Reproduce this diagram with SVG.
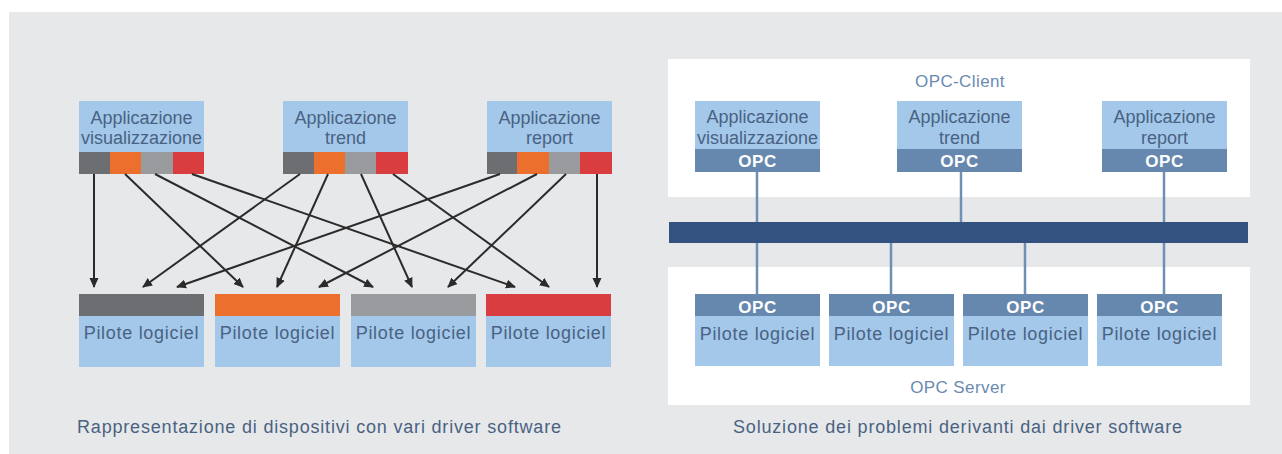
<svg xmlns="http://www.w3.org/2000/svg" width="1282" height="454" viewBox="0 0 1282 454">
<defs>
<marker id="ah" markerWidth="10" markerHeight="10" refX="9" refY="5" orient="auto" markerUnits="userSpaceOnUse">
<path d="M0,0.5 L10,5 L0,9.5 Z" fill="#2b2b2b"/>
</marker>
<style>
text{font-family:"Liberation Sans",Arial,sans-serif}
.lb{fill:#a3c8ea}
.t{font-size:18px;fill:#4a6282;text-anchor:middle}
.pt{letter-spacing:0.7px}
.opc{fill:#6688ae}
.ot{font-size:17px;fill:#ffffff;text-anchor:middle;font-weight:bold;letter-spacing:0.5px}
.dk{fill:#6d6e71}
.or{fill:#ec6f2d}
.gr{fill:#9a9b9e}
.rd{fill:#d93d3f}
.ar{stroke:#2b2b2b;stroke-width:2;fill:none;marker-end:url(#ah)}
.cn{stroke:#6f8fb7;stroke-width:2.5;fill:none}
.cap{font-size:18px;fill:#4a6282}
.pl{font-size:17px;fill:#6a8ab0;text-anchor:middle;letter-spacing:0.4px}
</style>
</defs>
<rect x="9" y="12" width="1273" height="442" fill="#e7e8ea"/>

<!-- Left side -->
<g id="left-app-vis">
<rect class="lb" x="79" y="101" width="125" height="51"/>
<text class="t" x="141.5" y="124">Applicazione</text>
<text class="t" x="141.5" y="144">visualizzazione</text>
<rect class="dk" x="79" y="152" width="31" height="22"/>
<rect class="or" x="110" y="152" width="31" height="22"/>
<rect class="gr" x="141" y="152" width="32" height="22"/>
<rect class="rd" x="173" y="152" width="31" height="22"/>
</g>
<g id="left-app-trend">
<rect class="lb" x="283" y="101" width="125" height="51"/>
<text class="t" x="345.5" y="124">Applicazione</text>
<text class="t" x="345.5" y="144">trend</text>
<rect class="dk" x="283" y="152" width="31" height="22"/>
<rect class="or" x="314" y="152" width="31" height="22"/>
<rect class="gr" x="345" y="152" width="31" height="22"/>
<rect class="rd" x="376" y="152" width="32" height="22"/>
</g>
<g id="left-app-report">
<rect class="lb" x="487" y="101" width="125" height="51"/>
<text class="t" x="549.5" y="124">Applicazione</text>
<text class="t" x="549.5" y="144">report</text>
<rect class="dk" x="487" y="152" width="30" height="22"/>
<rect class="or" x="517" y="152" width="32" height="22"/>
<rect class="gr" x="549" y="152" width="31" height="22"/>
<rect class="rd" x="580" y="152" width="32" height="22"/>
</g>

<g id="left-pilote-1">
<rect class="dk" x="79" y="294" width="125" height="22"/>
<rect class="lb" x="79" y="316" width="125" height="51"/>
<text class="t pt" x="141.5" y="339">Pilote logiciel</text>
</g>
<g id="left-pilote-2">
<rect class="or" x="215" y="294" width="125" height="22"/>
<rect class="lb" x="215" y="316" width="125" height="51"/>
<text class="t pt" x="277.5" y="339">Pilote logiciel</text>
</g>
<g id="left-pilote-3">
<rect class="gr" x="351" y="294" width="125" height="22"/>
<rect class="lb" x="351" y="316" width="125" height="51"/>
<text class="t pt" x="413.5" y="339">Pilote logiciel</text>
</g>
<g id="left-pilote-4">
<rect class="rd" x="486" y="294" width="125" height="22"/>
<rect class="lb" x="486" y="316" width="125" height="51"/>
<text class="t pt" x="548.5" y="339">Pilote logiciel</text>
</g>

<g id="left-connectors">
<line class="ar" x1="94" y1="174" x2="94" y2="287"/>
<line class="ar" x1="300" y1="174" x2="143" y2="287"/>
<line class="ar" x1="500" y1="174" x2="177" y2="287"/>
<line class="ar" x1="125" y1="174" x2="243" y2="287"/>
<line class="ar" x1="328" y1="174" x2="277" y2="287"/>
<line class="ar" x1="537" y1="174" x2="319" y2="287"/>
<line class="ar" x1="155" y1="174" x2="373" y2="287"/>
<line class="ar" x1="361" y1="174" x2="412" y2="287"/>
<line class="ar" x1="566" y1="174" x2="448" y2="287"/>
<line class="ar" x1="192" y1="174" x2="515" y2="287"/>
<line class="ar" x1="393" y1="174" x2="549" y2="287"/>
<line class="ar" x1="597" y1="174" x2="597" y2="287"/>
</g>

<text class="cap" x="77" y="433" textLength="484" lengthAdjust="spacing">Rappresentazione di dispositivi con vari driver software</text>

<!-- Right side -->
<g id="opc-client-panel">
<rect x="668" y="59" width="582" height="138" fill="#ffffff"/>
<text class="pl" x="960" y="87">OPC-Client</text>
</g>
<g id="opc-server-panel">
<rect x="668" y="267" width="582" height="138" fill="#ffffff"/>
<text class="pl" x="958" y="393">OPC Server</text>
</g>

<g id="right-connectors">
<line class="cn" x1="757" y1="171" x2="757" y2="294"/>
<line class="cn" x1="961" y1="171" x2="961" y2="222"/>
<line class="cn" x1="1164" y1="171" x2="1164" y2="294"/>
<line class="cn" x1="891" y1="242" x2="891" y2="294"/>
<line class="cn" x1="1025" y1="242" x2="1025" y2="294"/>
</g>

<g id="bus">
<rect x="669" y="222" width="579" height="21" fill="#33527f"/>
</g>

<g id="right-app-vis">
<rect class="lb" x="695" y="101" width="125" height="48"/>
<text class="t" x="757.5" y="123">Applicazione</text>
<text class="t" x="757.5" y="144">visualizzazione</text>
<rect class="opc" x="695" y="149" width="125" height="23"/>
<text class="ot" x="757.5" y="167">OPC</text>
</g>
<g id="right-app-trend">
<rect class="lb" x="897" y="101" width="125" height="48"/>
<text class="t" x="959.5" y="123">Applicazione</text>
<text class="t" x="959.5" y="144">trend</text>
<rect class="opc" x="897" y="149" width="125" height="23"/>
<text class="ot" x="959.5" y="167">OPC</text>
</g>
<g id="right-app-report">
<rect class="lb" x="1102" y="101" width="125" height="48"/>
<text class="t" x="1164.5" y="123">Applicazione</text>
<text class="t" x="1164.5" y="144">report</text>
<rect class="opc" x="1102" y="149" width="125" height="23"/>
<text class="ot" x="1164.5" y="167">OPC</text>
</g>

<g id="right-pilote-1">
<rect class="opc" x="695" y="294" width="125" height="22"/>
<text class="ot" x="757.5" y="313">OPC</text>
<rect class="lb" x="695" y="316" width="125" height="50"/>
<text class="t pt" x="757.5" y="340">Pilote logiciel</text>
</g>
<g id="right-pilote-2">
<rect class="opc" x="829" y="294" width="125" height="22"/>
<text class="ot" x="891.5" y="313">OPC</text>
<rect class="lb" x="829" y="316" width="125" height="50"/>
<text class="t pt" x="891.5" y="340">Pilote logiciel</text>
</g>
<g id="right-pilote-3">
<rect class="opc" x="963" y="294" width="125" height="22"/>
<text class="ot" x="1025.5" y="313">OPC</text>
<rect class="lb" x="963" y="316" width="125" height="50"/>
<text class="t pt" x="1025.5" y="340">Pilote logiciel</text>
</g>
<g id="right-pilote-4">
<rect class="opc" x="1097" y="294" width="125" height="22"/>
<text class="ot" x="1159.5" y="313">OPC</text>
<rect class="lb" x="1097" y="316" width="125" height="50"/>
<text class="t pt" x="1159.5" y="340">Pilote logiciel</text>
</g>

<text class="cap" x="733" y="433" textLength="449" lengthAdjust="spacing">Soluzione dei problemi derivanti dai driver software</text>
</svg>
